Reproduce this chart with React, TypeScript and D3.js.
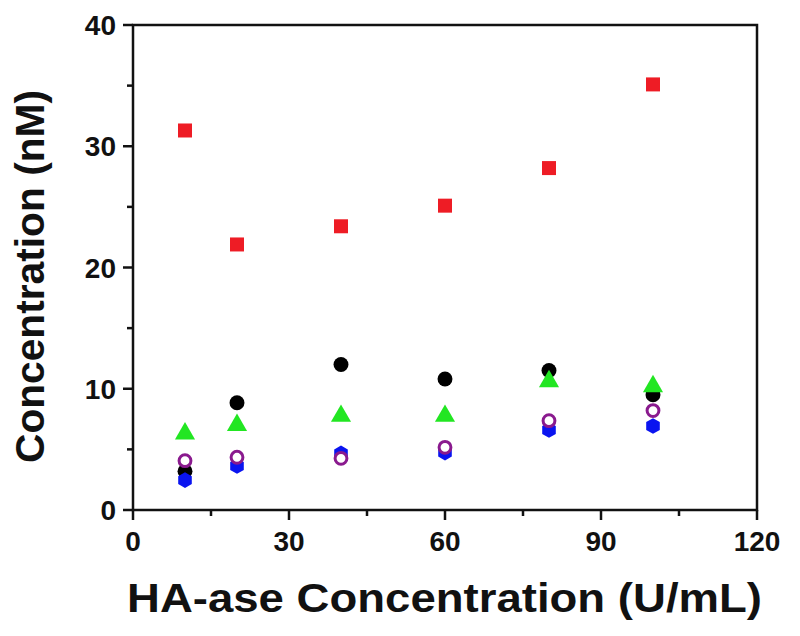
import * as d3 from "d3";
import { useEffect, useRef } from "react";

const xValues = [10, 20, 40, 60, 80, 100];
const redSquares = [31.3, 21.9, 23.4, 25.1, 28.2, 35.1];
const blackCircles = [3.2, 8.85, 12.0, 10.8, 11.5, 9.5];
const greenTriangles = [6.3, 7.0, 7.75, 7.75, 10.6, 10.2];
const blueHexagons = [2.47, 3.63, 4.67, 4.73, 6.6, 6.93];
const purpleRings = [4.07, 4.35, 4.26, 5.17, 7.37, 8.2];

const xTicks = [0, 30, 60, 90, 120];
const yTicks = [0, 10, 20, 30, 40];
const xMinor = [15, 45, 75, 105];
const yMinor = [5, 15, 25, 35];

const W = 800;
const H = 636;
const margin = { left: 133, right: 43, top: 25, bottom: 126 };

const App = () => {
  const svgRef = useRef(null);

  useEffect(() => {
    const svg = d3.select(svgRef.current);
    svg.selectAll("*").remove();
    svg.attr("width", W).attr("height", H);

    const x = d3.scaleLinear().domain([0, 120]).range([margin.left, W - margin.right]);
    const y = d3.scaleLinear().domain([0, 40]).range([H - margin.bottom, margin.top]);

    const font = "'Liberation Sans', Arial, sans-serif";
    const g = svg.append("g");

    // frame
    g.append("rect")
      .attr("x", x(0))
      .attr("y", y(40))
      .attr("width", x(120) - x(0))
      .attr("height", y(0) - y(40))
      .attr("fill", "none")
      .attr("stroke", "#111")
      .attr("stroke-width", 2.5);

    // x axis ticks
    const xAxis = g.append("g").attr("transform", `translate(0,${y(0)})`);
    xAxis.selectAll("line.major").data(xTicks).join("line")
      .attr("x1", (d) => x(d)).attr("x2", (d) => x(d))
      .attr("y1", 0).attr("y2", 10)
      .attr("stroke", "#111").attr("stroke-width", 2.5);
    xAxis.selectAll("line.minor").data(xMinor).join("line")
      .attr("class", "minor")
      .attr("x1", (d) => x(d)).attr("x2", (d) => x(d))
      .attr("y1", 0).attr("y2", 6)
      .attr("stroke", "#111").attr("stroke-width", 2.5);
    xAxis.selectAll("text").data(xTicks).join("text")
      .attr("x", (d) => x(d))
      .attr("y", 41)
      .attr("text-anchor", "middle")
      .attr("font-family", font)
      .attr("font-weight", "bold")
      .attr("font-size", 28)
      .attr("fill", "#111")
      .text((d) => d);

    // y axis ticks
    const yAxis = g.append("g").attr("transform", `translate(${x(0)},0)`);
    yAxis.selectAll("line.major").data(yTicks).join("line")
      .attr("y1", (d) => y(d)).attr("y2", (d) => y(d))
      .attr("x1", 0).attr("x2", -10)
      .attr("stroke", "#111").attr("stroke-width", 2.5);
    yAxis.selectAll("line.minor").data(yMinor).join("line")
      .attr("class", "minor")
      .attr("y1", (d) => y(d)).attr("y2", (d) => y(d))
      .attr("x1", 0).attr("x2", -6)
      .attr("stroke", "#111").attr("stroke-width", 2.5);
    yAxis.selectAll("text").data(yTicks).join("text")
      .attr("x", -17)
      .attr("y", (d) => y(d) + 10)
      .attr("text-anchor", "end")
      .attr("font-family", font)
      .attr("font-weight", "bold")
      .attr("font-size", 28)
      .attr("fill", "#111")
      .text((d) => d);

    // axis titles
    g.append("text")
      .attr("x", 127)
      .attr("y", 612)
      .attr("textLength", 635)
      .attr("lengthAdjust", "spacingAndGlyphs")
      .attr("font-family", font)
      .attr("font-weight", "bold")
      .attr("font-size", 41)
      .attr("fill", "#111")
      .text("HA-ase Concentration (U/mL)");

    g.append("text")
      .attr("transform", `translate(44,463) rotate(-90)`)
      .attr("textLength", 373)
      .attr("lengthAdjust", "spacingAndGlyphs")
      .attr("font-family", font)
      .attr("font-weight", "bold")
      .attr("font-size", 41)
      .attr("fill", "#111")
      .text("Concentration (nM)");

    const pts = (vals: number[]) => vals.map((v, i) => ({ x: xValues[i], v }));
    const sym = (type: d3.SymbolType, size: number) => d3.symbol().type(type).size(size)();

    const hexagon: d3.SymbolType = {
      draw(ctx, size) {
        const r = Math.sqrt(size / (1.5 * Math.sqrt(3)));
        for (let k = 0; k < 6; k++) {
          const a = (Math.PI / 3) * k + Math.PI / 6;
          const px = r * Math.cos(a);
          const py = r * Math.sin(a);
          if (k === 0) ctx.moveTo(px, py);
          else ctx.lineTo(px, py);
        }
        ctx.closePath();
      },
    };

    const series = [
      { vals: redSquares, path: sym(d3.symbolSquare, 196), fill: "#ee1c25", stroke: "none", sw: 0 },
      { vals: blackCircles, path: sym(d3.symbolCircle, 175), fill: "#000", stroke: "none", sw: 0 },
      { vals: greenTriangles, path: sym(d3.symbolTriangle, 175), fill: "#22e622", stroke: "none", sw: 0 },
      { vals: blueHexagons, path: sym(hexagon, 160), fill: "#0a14f0", stroke: "none", sw: 0 },
      { vals: purpleRings, path: sym(d3.symbolCircle, 110), fill: "#fff", stroke: "#8a1a8e", sw: 3 },
    ];

    series.forEach((s) => {
      g.append("g")
        .selectAll("path")
        .data(pts(s.vals))
        .join("path")
        .attr("d", s.path as string)
        .attr("transform", (d) => `translate(${x(d.x)},${y(d.v)})`)
        .attr("fill", s.fill)
        .attr("stroke", s.stroke)
        .attr("stroke-width", s.sw);
    });
  }, []);

  return <svg ref={svgRef} style={{ position: "absolute", left: 0, top: 0 }}></svg>;
};

export default App;
